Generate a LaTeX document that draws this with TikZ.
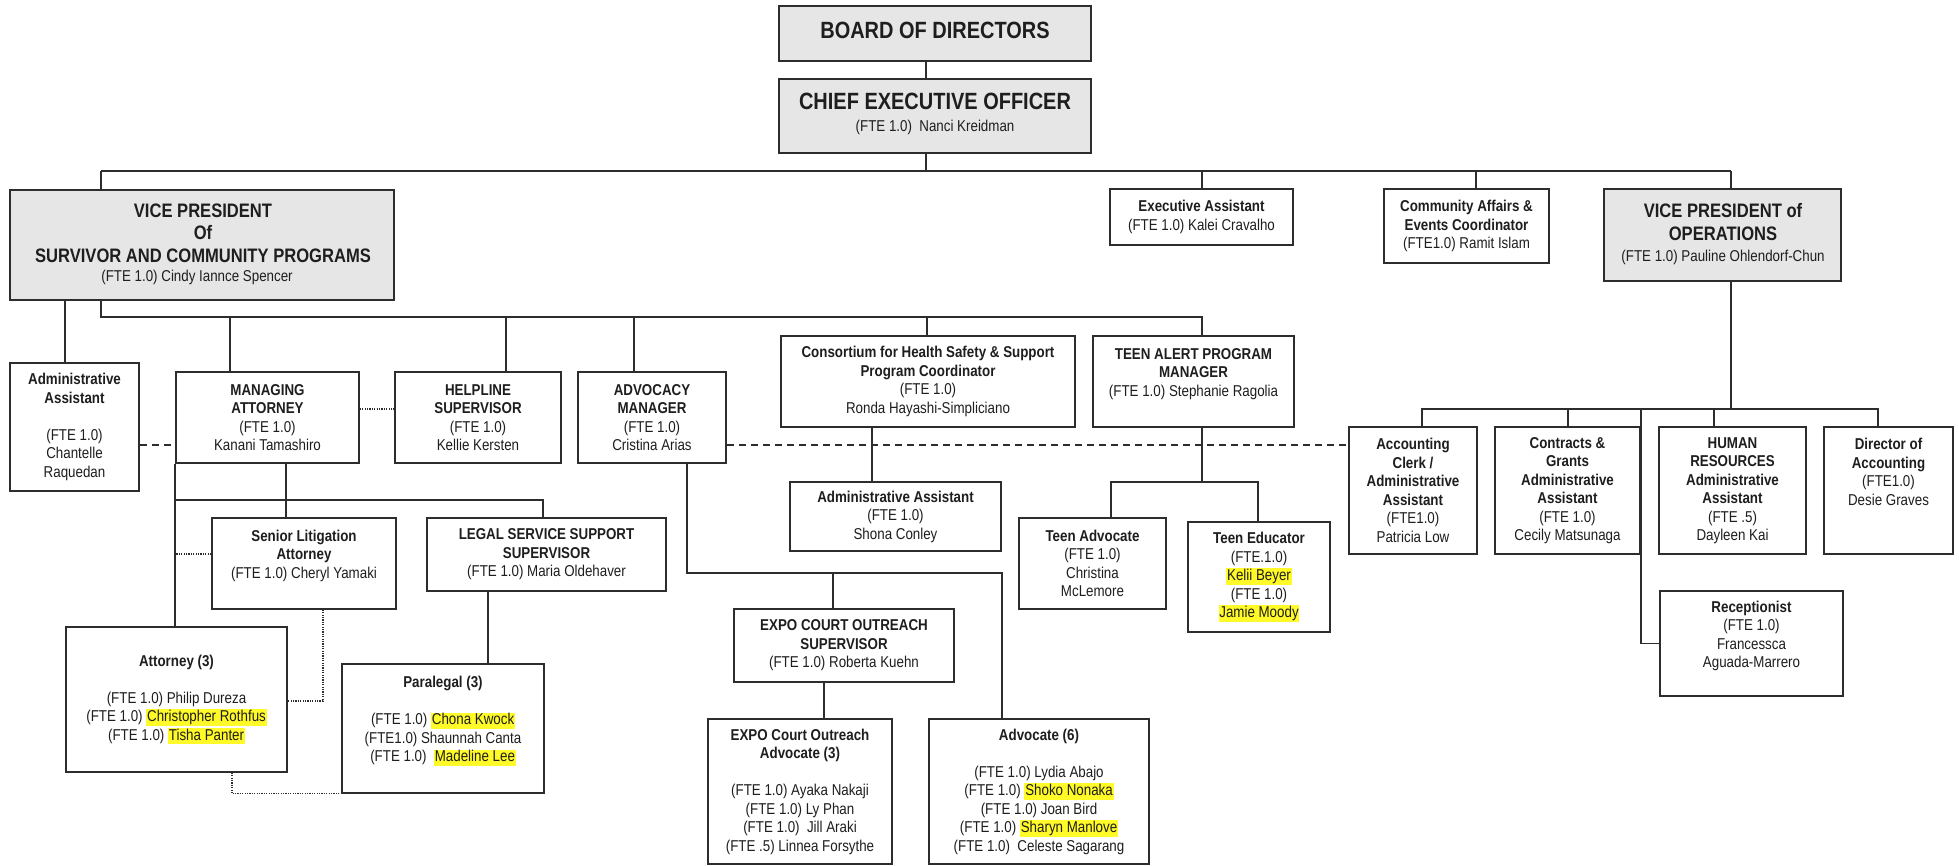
\documentclass[tikz,border=0pt]{standalone}
\usepackage{fontspec}
\setmainfont{Liberation Sans}[FakeStretch=0.85]
\definecolor{lc}{RGB}{45,45,45}
\definecolor{tc}{RGB}{30,30,30}
\definecolor{gfill}{RGB}{230,230,230}
\definecolor{hly}{RGB}{255,250,40}
\newcommand{\fs}{\fontsize{15.7}{18.5}\selectfont\lineskiplimit=-20pt\lineskip=0pt\relax}
\newcommand{\bigf}{\fontsize{23.5}{28}\selectfont\bfseries}
\newcommand{\vpf}{\fontsize{19.5}{23}\selectfont\bfseries}
\newcommand{\hlname}[1]{{\setlength{\fboxsep}{0.8pt}\colorbox{hly}{\vphantom{Ky}#1}}}
\newcommand{\bx}[6][box]{\node[#1, minimum width={#4-#2}, minimum height={#5-#3}] (#6) at ({(#2+#4)/2},{(#3+#5)/2})}
\begin{document}
\begin{tikzpicture}[x=1pt,y=-1pt,
  box/.style={draw=lc, line width=1.6pt, inner sep=0pt, fill=white, align=center, font=\fs, text=tc},
  gbox/.style={box, fill=gfill},
  ttl/.style={anchor=base, inner sep=0pt, text=tc},
  conn/.style={draw=lc, line width=1.6pt},
  dashln/.style={draw=lc, line width=1.5pt, dash pattern=on 7pt off 5pt},
  dotln/.style={draw=lc, line width=1.2pt, dash pattern=on 1.2pt off 1.2pt}]
\useasboundingbox (0,0) rectangle (1959,865);
\fill[white] (0,0) rectangle (1959,865);

% ---------- boxes ----------
\bx[gbox]{779}{6}{1091}{61}{board}{};
\bx[gbox]{779}{79}{1091}{153}{ceo}{};
\bx[gbox]{10}{190}{394}{300}{vps}{};
\bx{1110}{189}{1293}{245}{exec}{\textbf{Executive Assistant}\\(FTE 1.0) Kalei Cravalho};
\bx{1384}{189}{1549}{263}{comm}{\textbf{Community Affairs \&}\\\textbf{Events Coordinator}\\(FTE1.0) Ramit Islam};
\bx[gbox]{1604}{189}{1841}{281}{vpo}{};

\node[ttl, font=\bigf] (boardT) at (935,38.4) {BOARD OF DIRECTORS};
\node[ttl, font=\bigf] (ceoT) at (935,109.4) {CHIEF EXECUTIVE OFFICER};
\node[ttl, font=\fs] (ceoS) at (935,131.6) {(FTE 1.0)~~Nanci Kreidman};
\node[ttl, font=\vpf] (vpsT1) at (203,217) {VICE PRESIDENT};
\node[ttl, font=\vpf] (vpsT2) at (203,239.5) {Of};
\node[ttl, font=\vpf] (vpsT3) at (203,262) {SURVIVOR AND COMMUNITY PROGRAMS};
\node[ttl, font=\fs] (vpsS) at (197,281.6) {(FTE 1.0) Cindy Iannce Spencer};
\node[ttl, font=\vpf] (vpoT1) at (1723,217) {VICE PRESIDENT of};
\node[ttl, font=\vpf] (vpoT2) at (1723,240) {OPERATIONS};
\node[ttl, font=\fs] (vpoS) at (1723,261.6) {(FTE 1.0) Pauline Ohlendorf-Chun};

\bx{10}{363}{139}{491}{adm1}{\textbf{Administrative}\\\textbf{Assistant}\\\mbox{}\\(FTE 1.0)\\Chantelle\\Raquedan};
\bx{176}{372}{359}{463}{ma}{\textbf{MANAGING}\\\textbf{ATTORNEY}\\(FTE 1.0)\\Kanani Tamashiro};
\bx{395}{372}{561}{463}{help}{\textbf{HELPLINE}\\\textbf{SUPERVISOR}\\(FTE 1.0)\\Kellie Kersten};
\bx{578}{372}{726}{463}{adv}{\textbf{ADVOCACY}\\\textbf{MANAGER}\\(FTE 1.0)\\Cristina Arias};
\bx{781}{336}{1075}{427}{cons}{\textbf{Consortium for Health Safety \& Support}\\\textbf{Program Coordinator}\\(FTE 1.0)\\Ronda Hayashi-Simpliciano};
\bx{1093}{336}{1294}{427}{teen}{\textbf{TEEN ALERT PROGRAM}\\\textbf{MANAGER}\\(FTE 1.0) Stephanie Ragolia\\\mbox{}};

\bx{212}{518}{396}{609}{slit}{\textbf{Senior Litigation}\\\textbf{Attorney}\\(FTE 1.0) Cheryl Yamaki\\\mbox{}};
\bx{427}{518}{666}{591}{legal}{\textbf{LEGAL SERVICE SUPPORT}\\\textbf{SUPERVISOR}\\(FTE 1.0) Maria Oldehaver};
\bx{66}{627}{287}{772}{atty}{\textbf{Attorney (3)}\\\mbox{}\\(FTE 1.0) Philip Dureza\\(FTE 1.0) \hlname{Christopher Rothfus}\\(FTE 1.0) \hlname{Tisha Panter}};
\bx{342}{664}{544}{793}{para}{\textbf{Paralegal (3)}\\\mbox{}\\(FTE 1.0) \hlname{Chona Kwock}\\(FTE1.0) Shaunnah Canta\\(FTE 1.0)~~\hlname{Madeline Lee}\\\mbox{}};

\bx{790}{482}{1001}{551}{adm2}{\textbf{Administrative Assistant}\\(FTE 1.0)\\Shona Conley};
\bx{734}{609}{954}{682}{expo}{\textbf{EXPO COURT OUTREACH}\\\textbf{SUPERVISOR}\\(FTE 1.0) Roberta Kuehn};
\bx{708}{719}{892}{864}{expoadv}{\textbf{EXPO Court Outreach}\\\textbf{Advocate (3)}\\\mbox{}\\(FTE 1.0) Ayaka Nakaji\\(FTE 1.0) Ly Phan\\(FTE 1.0)~~Jill Araki\\(FTE .5) Linnea Forsythe};
\bx{929}{719}{1149}{864}{advoc}{\textbf{Advocate (6)}\\\mbox{}\\(FTE 1.0) Lydia Abajo\\(FTE 1.0) \hlname{Shoko Nonaka}\\(FTE 1.0) Joan Bird\\(FTE 1.0) \hlname{Sharyn Manlove}\\(FTE 1.0)~~Celeste Sagarang};

\bx{1019}{518}{1166}{609}{tadv}{\textbf{Teen Advocate}\\(FTE 1.0)\\Christina\\McLemore};
\bx{1188}{522}{1330}{632}{tedu}{\textbf{Teen Educator}\\(FTE.1.0)\\\hlname{Kelii Beyer}\\(FTE 1.0)\\\hlname{Jamie Moody}};

\bx{1349}{427}{1477}{554}{acct}{\textbf{Accounting}\\\textbf{Clerk /}\\\textbf{Administrative}\\\textbf{Assistant}\\(FTE1.0)\\Patricia Low};
\bx{1495}{427}{1640}{554}{contr}{\textbf{Contracts \&}\\\textbf{Grants}\\\textbf{Administrative}\\\textbf{Assistant}\\(FTE 1.0)\\Cecily Matsunaga};
\bx{1659}{427}{1806}{554}{hr}{\textbf{HUMAN}\\\textbf{RESOURCES}\\\textbf{Administrative}\\\textbf{Assistant}\\(FTE .5)\\Dayleen Kai};
\bx{1824}{427}{1953}{554}{dir}{\textbf{Director of}\\\textbf{Accounting}\\(FTE1.0)\\Desie Graves\\\mbox{}\\\mbox{}};
\bx{1660}{591}{1843}{696}{recep}{\textbf{Receptionist}\\(FTE 1.0)\\Francessca\\Aguada-Marrero\\\mbox{}};

% ---------- bus coordinates ----------
\coordinate (busA) at (101,171);
\coordinate (busB) at (1731,171);
\coordinate (busC) at (101,317);
\coordinate (busD) at (1202,317);
\coordinate (busE) at (176,500);
\coordinate (busF) at (543,500);
\coordinate (busG) at (687,573);
\coordinate (busH) at (1002,573);
\coordinate (busI) at (1111,482);
\coordinate (busJ) at (1258,482);
\coordinate (busK) at (1422,409);
\coordinate (busL) at (1878,409);
\coordinate (busM) at (1641,409);

% ---------- connectors ----------
\draw[conn] ([xshift=-9pt]board.south) -- ([xshift=-9pt]ceo.north);
\draw[conn] ([xshift=-9pt]ceo.south) -- ++(0,18);
\draw[conn] (busA) -- (busB);
\draw[conn] (busA) -- (busA |- vps.north);
\draw[conn] (busB) -- (busB |- vpo.north);
\draw[conn] ([xshift=0.5pt]exec.north) -- ++(0,-18);
\draw[conn] ([xshift=9.5pt]comm.north) -- ++(0,-18);

\draw[conn] (busC |- vps.south) -- (busC) -- (busD) -- (busD |- teen.north);
\draw[conn] ([xshift=-9.5pt]adm1.north) -- ++(0,-63);
\draw[conn] ([xshift=-37.5pt]ma.north) -- ++(0,-55);
\draw[conn] ([xshift=28pt]help.north) -- ++(0,-55);
\draw[conn] ([xshift=-18pt]adv.north) -- ++(0,-55);
\draw[conn] ([xshift=-1pt]cons.north) -- ++(0,-19);

\draw[conn] (busE) -- (busF) -- (busF |- legal.north);
\draw[conn] (ma.south west) -- (ma.south west |- atty.north);
\draw[conn] ([xshift=18.5pt]ma.south) -- ++(0,55);
\draw[conn] ([xshift=-58.5pt]legal.south) -- ++(0,73);

\draw[conn] (busG |- adv.south) -- (busG) -- (busH) -- (busH |- advoc.north);
\draw[conn] ([xshift=-11pt]expo.north) -- ++(0,-36);
\draw[conn] ([xshift=-20pt]expo.south) -- ++(0,37);
\draw[conn] ([xshift=-56pt]cons.south) -- ++(0,55);

\draw[conn] ([xshift=8.5pt]teen.south) -- ++(0,55);
\draw[conn] (busI |- tadv.north) -- (busI) -- (busJ) -- (busJ |- tedu.north);

\draw[conn] ([xshift=8.5pt]vpo.south) -- ++(0,128);
\draw[conn] (busK |- acct.north) -- (busK) -- (busL) -- (busL |- dir.north);
\draw[conn] ([xshift=0.5pt]contr.north) -- ++(0,-18);
\draw[conn] ([xshift=-18.5pt]hr.north) -- ++(0,-18);
\draw[conn] (busM) |- (recep.west);

% dashed and dotted links
\draw[dashln] ([yshift=-18pt]adm1.east) -- ([yshift=-27.5pt]ma.west);
\draw[dashln] ([yshift=-27.5pt]adv.east) -- ([yshift=45.5pt]acct.west);
\draw[dotln] ([yshift=8.5pt]ma.east) -- ([yshift=8.5pt]help.west);
\draw[dotln] ([yshift=9.5pt]slit.west) -- ++(-36,0);
\draw[dotln] ([xshift=19pt]slit.south) |- ([yshift=-1.5pt]atty.east);
\draw[dotln] ([xshift=55.5pt]atty.south) |- (para.south west);
\end{tikzpicture}
\end{document}
